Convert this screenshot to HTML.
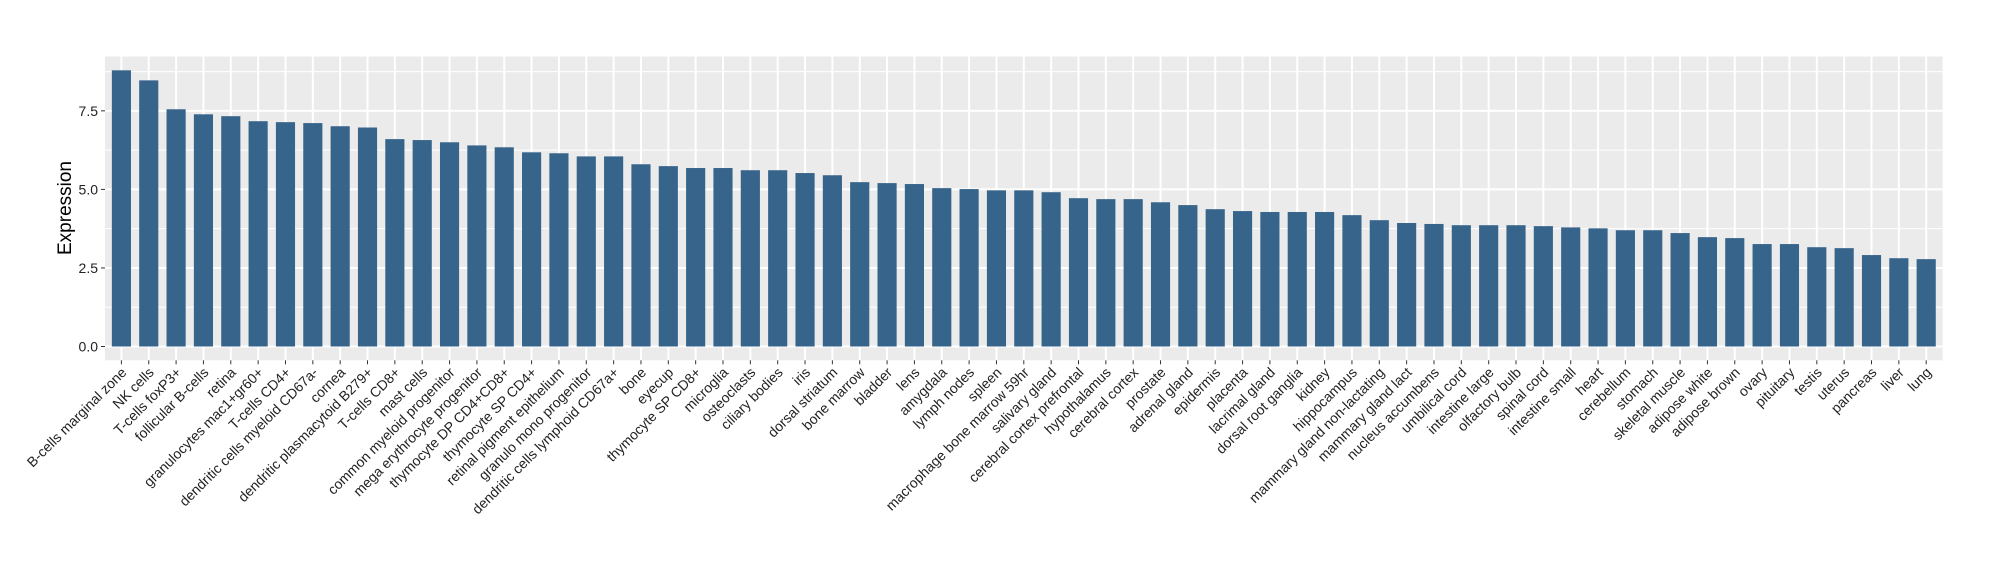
<!DOCTYPE html>
<html><head><meta charset="utf-8"><style>
html,body{margin:0;padding:0;background:#fff;}
svg{display:block;font-family:"Liberation Sans",Arial,sans-serif;}
</style></head><body>
<svg id="chart" width="2000" height="580" viewBox="0 0 2000 580" xmlns="http://www.w3.org/2000/svg">
<rect x="0" y="0" width="2000" height="580" fill="#fff"/>
<rect x="105" y="56.5" width="1837.6" height="303.8" fill="#EBEBEB"/>
<g id="grid"></g>
<g id="bars"></g>
<g id="yaxis"></g>
<g id="xaxis"></g>
<text x="0" y="0" transform="translate(71,208) rotate(-90)" text-anchor="middle" font-size="19" fill="#000">Expression</text>
</svg>
<script>
const categories = ["B-cells marginal zone","NK cells","T-cells foxP3+","follicular B-cells","retina","granulocytes mac1+gr60+","T-cells CD4+","dendritic cells myeloid CD67a-","cornea","dendritic plasmacytoid B279+","T-cells CD8+","mast cells","common myeloid progenitor","mega erythrocyte progenitor","thymocyte DP CD4+CD8+","thymocyte SP CD4+","retinal pigment epithelium","granulo mono progenitor","dendritic cells lymphoid CD67a+","bone","eyecup","thymocyte SP CD8+","microglia","osteoclasts","ciliary bodies","iris","dorsal striatum","bone marrow","bladder","lens","amygdala","lymph nodes","spleen","macrophage bone marrow 59hr","salivary gland","cerebral cortex prefrontal","hypothalamus","cerebral cortex","prostate","adrenal gland","epidermis","placenta","lacrimal gland","dorsal root ganglia","kidney","hippocampus","mammary gland non-lactating","mammary gland lact","nucleus accumbens","umbilical cord","intestine large","olfactory bulb","spinal cord","intestine small","heart","cerebellum","stomach","skeletal muscle","adipose white","adipose brown","ovary","pituitary","testis","uterus","pancreas","liver","lung"];
const values = [8.79,8.47,7.55,7.39,7.33,7.17,7.14,7.11,7.01,6.97,6.60,6.57,6.50,6.40,6.34,6.18,6.15,6.05,6.05,5.80,5.74,5.68,5.68,5.61,5.61,5.52,5.45,5.23,5.20,5.17,5.04,5.01,4.97,4.97,4.91,4.72,4.69,4.69,4.59,4.50,4.37,4.31,4.28,4.28,4.28,4.18,4.02,3.93,3.90,3.86,3.86,3.86,3.83,3.79,3.76,3.70,3.70,3.61,3.48,3.45,3.26,3.26,3.16,3.13,2.91,2.81,2.78];
const yTicks = [0, 2.5, 5, 7.5];
const yTickLabels = ["0.0","2.5","5.0","7.5"];
const yMinor = [1.25, 3.75, 6.25, 8.75];

const NS = "http://www.w3.org/2000/svg";
const panel = {l:105, t:56.5, r:1942.6, b:360.3};
const maxV = Math.max(...values);
const yMax = maxV * 1.05, yMin = -maxV * 0.05;
function y(v){ return panel.b - (v - yMin) / (yMax - yMin) * (panel.b - panel.t); }
const n = categories.length;
const band = (panel.r - panel.l) / (n - 1 + 1.2);
function x(i){ return panel.l + (0.6 + i) * band; }
function mk(tag, attrs, parent){ const e = document.createElementNS(NS, tag); for (const k in attrs) e.setAttribute(k, attrs[k]); parent.appendChild(e); return e; }

const grid = document.getElementById('grid');
yMinor.forEach(v => {
  const l = mk('line', {x1:panel.l, x2:panel.r, y1:y(v), y2:y(v), stroke:'#fff', 'stroke-width':1}, grid);
  
  
});
yTicks.forEach(v => {
  const l = mk('line', {x1:panel.l, x2:panel.r, y1:y(v), y2:y(v), stroke:'#fff', 'stroke-width':2}, grid);
  
  
});
categories.forEach((c, i) => {
  const l = mk('line', {x1:x(i), x2:x(i), y1:panel.t, y2:panel.b, stroke:'#fff', 'stroke-width':2}, grid);
  
  
});

const bars = document.getElementById('bars');
const bw = band * 0.7;
values.forEach((v, i) => {
  const r = mk('rect', {x:x(i) - bw/2, y:y(v), width:bw, height:y(0) - y(v), fill:'#37648B'}, bars);
  
  
});

const ya = document.getElementById('yaxis');
yTicks.forEach((v, i) => {
  const t = mk('line', {x1:panel.l - 4, x2:panel.l, y1:y(v), y2:y(v), stroke:'#333', 'stroke-width':1}, ya);
  
  
  const tx = mk('text', {x:panel.l - 7, y:y(v) + 5, 'text-anchor':'end', 'font-size':14, fill:'#222'}, ya);
  tx.textContent = yTickLabels[i];
  
  
});

const xa = document.getElementById('xaxis');
categories.forEach((c, i) => {
  const t = mk('line', {x1:x(i), x2:x(i), y1:panel.b, y2:panel.b + 4, stroke:'#333', 'stroke-width':1}, xa);
  
  
  const tx = mk('text', {'text-anchor':'end', 'font-size':14, fill:'#222', transform:'translate(' + (x(i) + 6) + ',' + (panel.b + 13) + ') rotate(-45)'}, xa);
  tx.textContent = c;
  
  
});
</script>
</body></html>
